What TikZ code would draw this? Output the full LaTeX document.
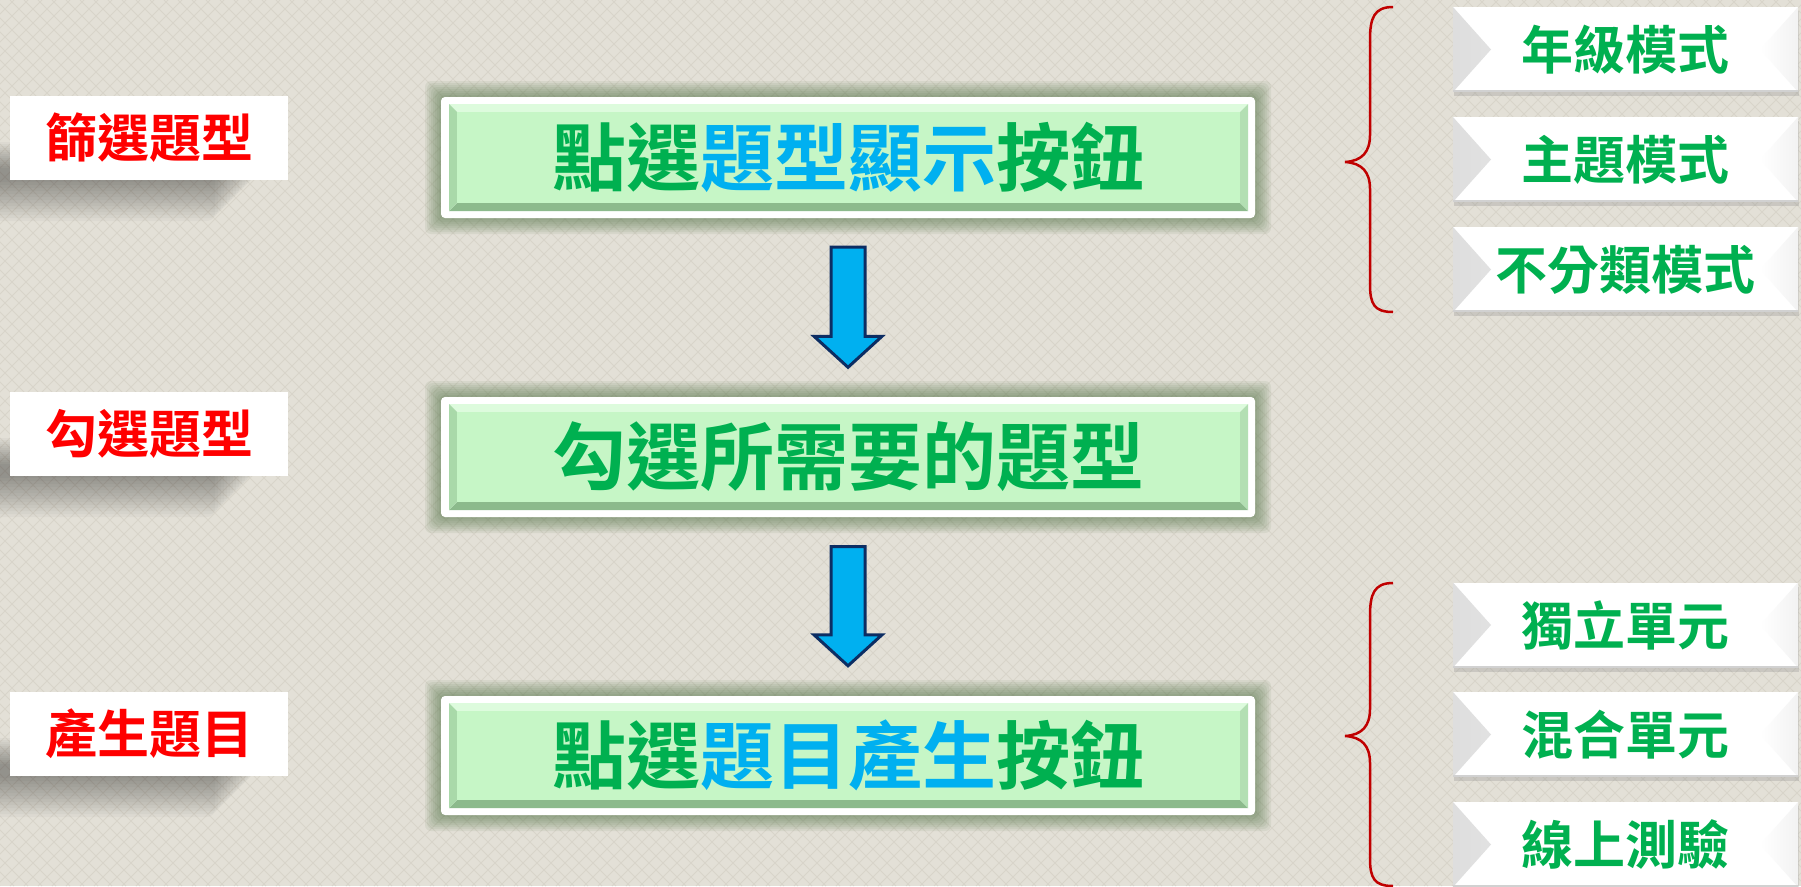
\documentclass[tikz,border=0pt]{standalone}
\usepackage{fontspec}
\newfontfamily\cjk{Noto Sans CJK TC}[BoldFont={Noto Sans CJK TC Bold}]
\usetikzlibrary{calc,shadows}
\definecolor{bg}{HTML}{E3E0D7}
\definecolor{bgline}{HTML}{D8D4CA}
\definecolor{tgreen}{HTML}{00B050}
\definecolor{tblue}{HTML}{00B0F0}
\definecolor{lred}{HTML}{FF0000}
\definecolor{bracec}{HTML}{C00000}
\definecolor{face}{HTML}{C6F6C6}
\definecolor{bevtop}{HTML}{DDFBDD}
\definecolor{bevbot}{HTML}{8CBA8C}
\definecolor{bevleft}{HTML}{A9D9A9}
\definecolor{bevright}{HTML}{B3DFB3}
\definecolor{glowc}{HTML}{55754A}
\definecolor{arrfill}{HTML}{00B0F0}
\definecolor{arrline}{HTML}{0C2D63}
\tikzset{
  mainlbl/.style={minimum width=814, minimum height=121, inner sep=0, text=tgreen,
    font=\cjk\bfseries\fontsize{74}{80}\selectfont},
  lbox/.style={fill=white, minimum width=278, minimum height=84, inner sep=0, text=lred,
    font=\cjk\bfseries\fontsize{52}{58}\selectfont},
  rbox/.style={fill=white, minimum width=345, minimum height=85, inner sep=0, text=tgreen,
    font=\cjk\bfseries\fontsize{52}{58}\selectfont,
    drop shadow={shadow xshift=1pt, shadow yshift=-4pt, opacity=0.25},
    path picture={
      \fill[left color=black!13, right color=white]
        (path picture bounding box.north west) -- ($(path picture bounding box.west)+(38,0)$)
        -- (path picture bounding box.south west) -- cycle;
      \fill[right color=black!5, left color=white]
        (path picture bounding box.north east) -- ($(path picture bounding box.east)+(-38,0)$)
        -- (path picture bounding box.south east) -- cycle;
      \fill[black!18] ($(path picture bounding box.south west)+(0,-2)$) rectangle (path picture bounding box.south east);
    }},
  blockarrow/.style={fill=arrfill, draw=arrline, line width=3, line join=miter},
  bracepath/.style={draw=bracec, line width=2.5},
}
\newcommand\btnbody[2]{%
  \foreach \k in {16,14,...,2}{\fill[glowc,opacity=0.09,rounded corners=6] (441-\k,#1-\k) rectangle (1255+\k,#2+\k);}
  \fill[white,rounded corners=4] (441,#1) rectangle (1255,#2);
  \fill[bevtop] (449,#1+7) -- (1248,#1+7) -- (1240,#1+15) -- (457,#1+15) -- cycle;
  \fill[bevbot] (449,#2-7) -- (1248,#2-7) -- (1240,#2-15) -- (457,#2-15) -- cycle;
  \fill[bevleft] (449,#1+7) -- (457,#1+15) -- (457,#2-15) -- (449,#2-7) -- cycle;
  \fill[bevright] (1248,#1+7) -- (1240,#1+15) -- (1240,#2-15) -- (1248,#2-7) -- cycle;
  \fill[face] (457,#1+15) rectangle (1240,#2-15);
}
\newcommand\lshadow[1]{%
  \foreach \k in {0,...,13}{\fill[black,opacity=0.028,rounded corners=8] (-20,#1-38+2*\k) rectangle (254-3*\k,#1+3*\k+2);}
}
\begin{document}
\begin{tikzpicture}[x=1pt,y=-1pt]
\useasboundingbox (0,0) rectangle (1801,886);
\clip (0,0) rectangle (1801,886);
\fill[bg] (0,0) rectangle (1801,886);
\foreach \c in {-900,-886,...,2700}{
  \draw[bgline,line width=1] (\c,0) -- (\c+886,886);
  \draw[bgline,line width=1] (\c,886) -- (\c+886,0);
}
% left labels
\lshadow{180}
\node[lbox] (l1) at (149,138) {篩選題型};
\lshadow{476}
\node[lbox] (l2) at (149,433.5) {勾選題型};
\lshadow{776}
\node[lbox] (l3) at (149,734) {產生題目};
% main buttons
\btnbody{97}{218}
\node[mainlbl] (m1) at (848,157.5) {點選\textcolor{tblue}{題型顯示}按鈕};
\btnbody{397}{517}
\node[mainlbl] (m2) at (848,457) {勾選所需要的題型};
\btnbody{696}{815}
\node[mainlbl] (m3) at (848,755.5) {點選\textcolor{tblue}{題目產生}按鈕};
% block arrows
\path (m1.south) ++(0,29) coordinate (a1s);
\path (m2.north) ++(0,-29) coordinate (a1e);
\draw[blockarrow] ($(a1s)+(-17,0)$) -- ($(a1s)+(17,0)$) -- ($(a1e)+(17,-31)$) -- ($(a1e)+(34,-31)$)
  -- (a1e) -- ($(a1e)+(-34,-31)$) -- ($(a1e)+(-17,-31)$) -- cycle;
\path (m2.south) ++(0,29) coordinate (a2s);
\path (m3.north) ++(0,-29) coordinate (a2e);
\draw[blockarrow] ($(a2s)+(-17,0)$) -- ($(a2s)+(17,0)$) -- ($(a2e)+(17,-31)$) -- ($(a2e)+(34,-31)$)
  -- (a2e) -- ($(a2e)+(-34,-31)$) -- ($(a2e)+(-17,-31)$) -- cycle;
% right boxes
\node[rbox] (r1) at (1625.5,49.5) {年級模式};
\node[rbox] (r2) at (1625.5,159.5) {主題模式};
\node[rbox] (r3) at (1625.5,269.5) {不分類模式};
\node[rbox] (r4) at (1625.5,625) {獨立單元};
\node[rbox] (r5) at (1625.5,734.5) {混合單元};
\node[rbox] (r6) at (1625.5,844.5) {線上測驗};
% braces
\draw[bracepath] (1393,7) .. controls (1374,7) and (1370,18) .. (1370,40) -- (1370,135)
  .. controls (1370,152) and (1362,161) .. (1345,162)
  .. controls (1362,163) and (1370,172) .. (1370,189) -- (1370,284)
  .. controls (1370,304) and (1374,312) .. (1393,312);
\draw[bracepath] (1393,583) .. controls (1374,583) and (1370,594) .. (1370,616) -- (1370,709)
  .. controls (1370,726) and (1362,735) .. (1345,736)
  .. controls (1362,737) and (1370,746) .. (1370,763) -- (1370,858)
  .. controls (1370,878) and (1374,886) .. (1393,886);
\end{tikzpicture}
\end{document}
